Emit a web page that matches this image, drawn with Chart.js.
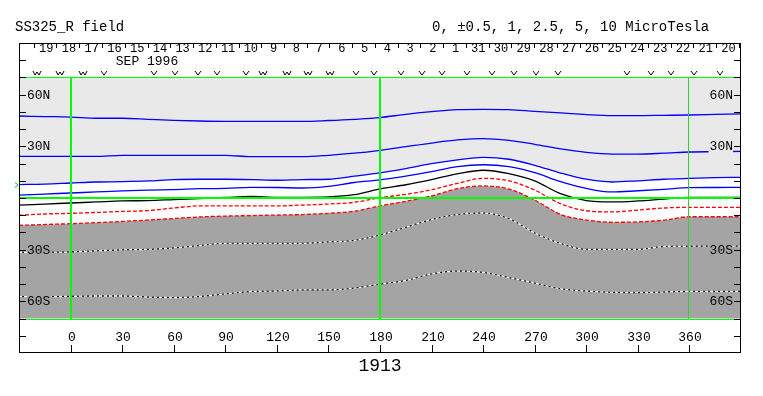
<!DOCTYPE html>
<html>
<head>
<meta charset="utf-8">
<script src="https://cdn.jsdelivr.net/npm/chart.js@4.4.0/dist/chart.umd.min.js"></script>
<style>
  html, body { margin: 0; padding: 0; background: #fff; }
  canvas { display: block; }
</style>
</head>
<body>
<canvas id="fieldChart" width="763" height="396"></canvas>
<script>
// longitude grid the contours were read on (degrees)
const lons = [-30, -15, 0, 15, 30, 45, 60, 75, 90, 105, 120, 135, 150, 165, 180,
  195, 210, 225, 240, 255, 270, 285, 300, 315, 330, 345, 360, 375, 390];

// contour latitudes (degrees) at each longitude, top to bottom
const pos10 = [47.6, 47.3, 47.0, 46.3, 46.3, 45.7, 45.1, 44.7, 44.5, 44.5, 44.5, 44.5, 45.0, 45.7, 46.7,
  48.6, 50.1, 51.3, 51.5, 51.3, 50.3, 49.4, 48.4, 47.8, 47.8, 48.0, 48.2, 48.5, 48.8];
const pos5 = [24.2, 24.2, 24.2, 24.2, 24.8, 24.8, 24.8, 24.8, 24.8, 24.0, 24.0, 24.0, 24.8, 26.0, 27.7,
  29.8, 31.9, 33.7, 34.5, 33.5, 31.2, 28.5, 26.5, 25.5, 25.5, 26.0, 26.7, 26.9, 27.1];
const pos2p5 = [7.8, 8.1, 8.7, 9.3, 9.5, 9.9, 10.7, 10.9, 10.9, 10.7, 10.3, 10.7, 10.9, 12.7, 14.6,
  17.1, 19.9, 22.1, 23.6, 22.5, 19.0, 14.5, 10.9, 9.3, 10.0, 10.9, 11.4, 11.8, 12.0];
const pos1 = [1.7, 2.3, 2.9, 3.5, 4.1, 4.6, 4.9, 5.4, 5.6, 6.2, 6.1, 5.8, 6.7, 9.0, 10.5,
  12.7, 15.3, 18.2, 19.3, 18.2, 14.7, 9.5, 5.6, 3.5, 4.2, 5.0, 6.0, 6.1, 6.2];
const zero = [-4.1, -3.5, -2.9, -2.3, -1.7, -1.5, -0.9, -0.3, 0.3, 0.9, 0.4, 0.4, 0.6, 1.9, 5.3,
  7.7, 10.7, 14.0, 16.1, 14.1, 9.9, 2.5, -1.5, -2.3, -1.7, -0.6, 0.4, 0.4, 0.4];
const neg0p5 = [-10.0, -9.3, -8.9, -8.4, -7.8, -7.3, -5.8, -4.6, -4.6, -4.6, -4.6, -4.1, -3.5, -2.5, 0.2,
  2.1, 4.8, 8.5, 11.4, 10.0, 4.6, -3.3, -7.4, -8.1, -7.0, -5.8, -5.4, -5.4, -5.4];
const neg1 = [-15.9, -15.4, -14.9, -14.3, -13.6, -12.8, -11.9, -11.0, -10.5, -10.2, -9.9, -9.6, -8.9, -7.7, -4.6,
  -1.9, 1.2, 5.4, 7.0, 5.2, -1.2, -9.5, -12.8, -14.1, -13.9, -12.9, -10.9, -10.9, -10.9];
const neg2p5 = [-31.5, -31.5, -31.3, -30.7, -30.1, -29.8, -29.0, -27.6, -26.3, -26.3, -26.3, -26.3, -25.5, -24.6, -21.5,
  -17.0, -12.5, -9.6, -8.7, -12.0, -20.3, -26.4, -29.8, -29.8, -29.8, -28.2, -28.0, -27.9, -27.9];
const neg5 = [-57.3, -57.3, -57.1, -56.9, -56.9, -57.5, -57.8, -57.2, -55.7, -54.3, -54.0, -53.4, -53.4, -52.3, -50.0,
  -47.9, -44.1, -42.4, -43.2, -46.2, -49.4, -52.7, -54.0, -54.8, -55.0, -54.6, -54.2, -54.2, -54.2];

// axis ticks
const lonTicks = [0, 30, 60, 90, 120, 150, 180, 210, 240, 270, 300, 330, 360];
const latTicks = [-80, -70, -60, -50, -40, -30, -20, -10, 0, 10, 20, 30, 40, 50, 60, 70, 80];
const latLabelValues = [60, 30, -30, -60];
const latLabelText = ['60N', '30N', '30S', '60S'];
const mapEdge = [70, -70];

// day-of-month strip along the top
const dayLabels = ['19', '18', '17', '16', '15', '14', '13', '12', '11', '10', '9', '8', '7', '6', '5', '4',
  '3', '2', '1', '31', '30', '29', '28', '27', '26', '25', '24', '23', '22', '21', '20'];
const dayTicks = [-21.4, -8.2, 5.1, 18.3, 31.5, 44.8, 58.0, 71.2, 84.4, 97.7, 110.9, 124.1, 137.4, 150.6,
  163.8, 177.1, 190.3, 203.5, 216.7, 230.0, 243.2, 256.4, 269.7, 282.9, 296.1, 309.4, 322.6, 335.8,
  349.0, 362.3, 375.5, 388.7];
const markerLons = [-19.4, -6.0, 7.1, 19.6, 48.6, 60.9, 74.2, 85.3, 102.1, 112.0, 125.7, 138.1, 150.9,
  166.0, 176.5, 192.2, 204.2, 216.3, 230.6, 244.9, 257.9, 270.7, 283.4, 323.4, 337.5, 349.1, 362.5, 377.6];
const markerKinds = ['W', 'W', 'W', 'V', 'V', 'V', 'V', 'V', 'V', 'W', 'W', 'W', 'W',
  'V', 'V', 'V', 'V', 'V', 'V', 'V', 'V', 'V', 'V', 'V', 'V', 'V', 'V', 'V'];

const LIGHT = '#e9e9e9';
const DARK = '#a4a4a4';

function pts(arr) {
  return lons.map((lon, i) => ({ x: lon, y: arr[i] }));
}

const datasets = [
  { label: '10', data: pts(pos10), borderColor: '#0000ff', order: 1 },
  { label: '5', data: pts(pos5), borderColor: '#0000ff', order: 1 },
  { label: '2.5', data: pts(pos2p5), borderColor: '#0000ff', backgroundColor: LIGHT, fill: { value: mapEdge[0] }, order: 1 },
  { label: '1', data: pts(pos1), borderColor: '#0000ff', order: 1 },
  { label: '0', data: pts(zero), borderColor: '#000000', order: 1 },
  { label: '-0.5', data: pts(neg0p5), borderColor: '#ff0000', borderDash: [4, 2], order: 1 },
  { label: '-1', data: pts(neg1), borderColor: '#ff0000', borderDash: [4, 2], backgroundColor: DARK, fill: { value: mapEdge[1] }, order: 1 },
  { label: '-2.5', data: pts(neg2p5), borderColor: '#ffffff', borderDash: [3, 2], order: 0 },
  { label: '-2.5 base', data: pts(neg2p5), borderColor: '#000000', borderWidth: 1, order: 2 },
  { label: '-5', data: pts(neg5), borderColor: '#ffffff', borderDash: [3, 2], order: 0 },
  { label: '-5 base', data: pts(neg5), borderColor: '#000000', borderWidth: 1, order: 2 }
];

const decor = {
  id: 'decor',
  beforeDraw(chart) {
    const ctx = chart.ctx;
    ctx.save();
    ctx.fillStyle = '#fff';
    ctx.fillRect(0, 0, chart.width, chart.height);
    ctx.restore();
  },
  afterDatasetsDraw(chart) {
    const { ctx, chartArea: a, scales: { x, y } } = chart;
    const px = v => Math.round(x.getPixelForValue(v));
    const py = v => Math.round(y.getPixelForValue(v));
    ctx.save();

    // green reference lines
    ctx.strokeStyle = '#00ff00';
    ctx.lineWidth = 1;
    mapEdge.forEach(lat => {
      ctx.beginPath();
      ctx.moveTo(a.left, py(lat) + 0.5);
      ctx.lineTo(a.right, py(lat) + 0.5);
      ctx.stroke();
    });
    ctx.lineWidth = 2;
    ctx.beginPath();
    ctx.moveTo(a.left, py(0));
    ctx.lineTo(a.right, py(0));
    [0, 180].forEach(lon => {
      ctx.moveTo(px(lon), py(mapEdge[0]));
      ctx.lineTo(px(lon), py(mapEdge[1]));
    });
    ctx.stroke();
    ctx.lineWidth = 1;
    ctx.strokeStyle = '#30d030';
    ctx.beginPath();
    ctx.moveTo(px(360) - 0.5, py(mapEdge[0]));
    ctx.lineTo(px(360) - 0.5, py(mapEdge[1]));
    ctx.stroke();

    // small green arrow on the left edge
    ctx.strokeStyle = '#00cc00';
    ctx.beginPath();
    ctx.moveTo(15, py(7.4) - 2.5);
    ctx.lineTo(18, py(7.4));
    ctx.lineTo(15, py(7.4) + 2.5);
    ctx.stroke();

    // frame
    ctx.strokeStyle = '#000';
    ctx.lineWidth = 1;
    ctx.strokeRect(a.left + 0.5, a.top + 0.5, a.right - a.left - 1, a.bottom - a.top - 1);

    // ticks
    ctx.beginPath();
    latTicks.forEach(lat => {
      const yy = py(lat) + 0.5;
      ctx.moveTo(a.left, yy); ctx.lineTo(a.left + 7, yy);
      ctx.moveTo(a.right - 7, yy); ctx.lineTo(a.right, yy);
    });
    lonTicks.forEach(lon => {
      const xx = px(lon) + 0.5;
      ctx.moveTo(xx, a.bottom); ctx.lineTo(xx, a.bottom - 8);
    });
    dayTicks.forEach(lon => {
      const xx = px(lon) + 0.5;
      ctx.moveTo(xx, a.top); ctx.lineTo(xx, a.top + 5);
    });
    ctx.stroke();

    // latitude labels, both sides, on a box of the map colour
    ctx.font = '13px "Liberation Mono", monospace';
    ctx.textBaseline = 'middle';
    latLabelValues.forEach((lat, i) => {
      const yy = py(lat) + 1;
      const txt = latLabelText[i];
      const w = ctx.measureText(txt).width;
      ctx.fillStyle = lat > 0 ? LIGHT : DARK;
      ctx.fillRect(a.left + 8, yy - 6, w + 1, 12);
      ctx.fillRect(a.right - 9 - w, yy - 6, w + 1, 12);
      ctx.fillStyle = '#000';
      ctx.textAlign = 'left';
      ctx.fillText(txt, a.left + 8, yy);
      ctx.textAlign = 'right';
      ctx.fillText(txt, a.right - 8, yy);
    });

    // longitude labels
    ctx.textAlign = 'center';
    lonTicks.forEach(lon => ctx.fillText(String(lon), px(lon) + 1, py(-81)));

    // day strip
    ctx.font = '12px "Liberation Mono", monospace';
    dayLabels.forEach((d, i) => {
      const xx = (x.getPixelForValue(dayTicks[i]) + x.getPixelForValue(dayTicks[i + 1])) / 2;
      ctx.fillText(d, xx + 1, py(86.5));
    });
    ctx.font = '13px "Liberation Mono", monospace';
    ctx.fillText('SEP 1996', px(44.5), py(79));

    // orbit markers
    ctx.beginPath();
    const my = py(72.6);
    markerLons.forEach((lon, i) => {
      const mx = px(lon);
      if (markerKinds[i] === 'V') {
        ctx.moveTo(mx - 3, my - 2); ctx.lineTo(mx, my + 2); ctx.lineTo(mx + 3, my - 2);
      } else {
        ctx.moveTo(mx - 4, my - 2); ctx.lineTo(mx - 2, my + 2); ctx.lineTo(mx, my - 1);
        ctx.lineTo(mx + 2, my + 2); ctx.lineTo(mx + 4, my - 2);
      }
    });
    ctx.stroke();

    // titles
    ctx.font = '14px "Liberation Mono", monospace';
    ctx.textAlign = 'left';
    ctx.fillText('SS325_R field', 15, 27);
    ctx.fillText('0, \u00b10.5, 1, 2.5, 5, 10 MicroTesla', 432, 27);
    ctx.font = '18px "Liberation Mono", monospace';
    ctx.textAlign = 'center';
    ctx.fillText('1913', px(180), a.bottom + 13);
    ctx.restore();
  }
};

new Chart(document.getElementById('fieldChart').getContext('2d'), {
  type: 'line',
  data: { datasets },
  options: {
    responsive: false,
    animation: false,
    devicePixelRatio: 1,
    layout: { padding: { left: 19, right: 22, top: 43, bottom: 43 } },
    scales: {
      x: { type: 'linear', min: -30, max: 390, display: false },
      y: { type: 'linear', min: -90, max: 90, display: false }
    },
    elements: {
      point: { radius: 0 },
      line: { borderWidth: 1.3, cubicInterpolationMode: 'monotone', fill: false }
    },
    plugins: {
      legend: { display: false },
      tooltip: { enabled: false },
      filler: { drawTime: 'beforeDatasetsDraw' }
    }
  },
  plugins: [decor]
});
</script>
</body>
</html>
